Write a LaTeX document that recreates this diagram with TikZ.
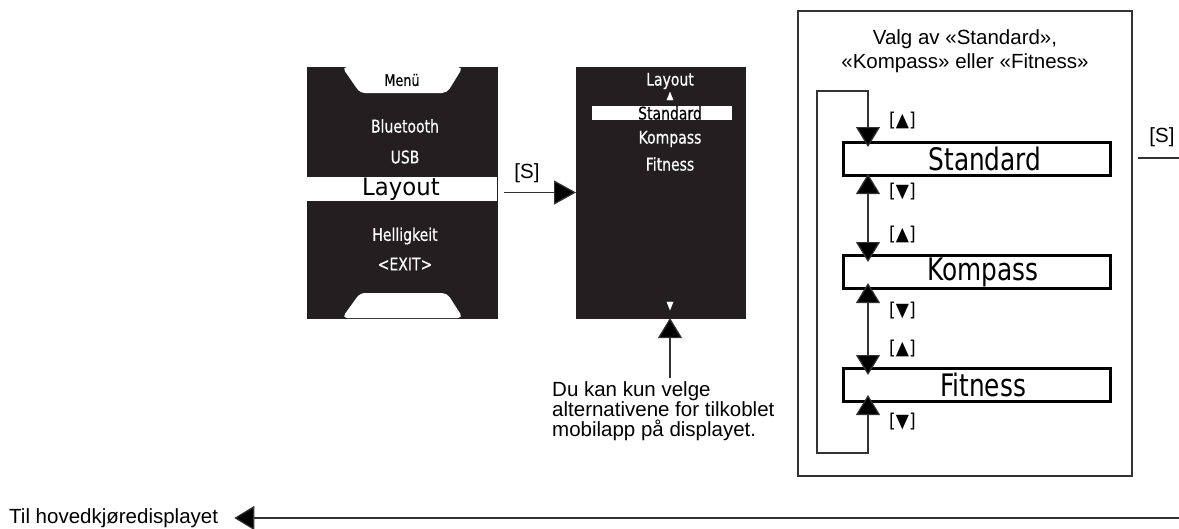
\documentclass[tikz,border=0pt]{standalone}
\usepackage{fontspec}
\setmainfont{Liberation Sans}
\newfontfamily\lcd[FakeStretch=0.8,FakeBold=0.5]{DejaVu Sans}
\newfontfamily\lcdbig[FakeStretch=0.8]{DejaVu Sans}
\newfontfamily\lcdw[FakeStretch=0.95]{DejaVu Sans}
\newfontfamily\keyfont[FakeStretch=0.9]{DejaVu Sans}
\usetikzlibrary{arrows.meta}
\definecolor{scr}{HTML}{231F20}
\definecolor{ln}{HTML}{333333}
\tikzset{
  screen/.style={draw=scr, fill=scr, minimum width=#1, minimum height=251, inner sep=0, outer sep=0},
  scrtext/.style={text=white, font=\lcd\fontsize{17.5}{18}\selectfont, inner sep=0},
  optbox/.style={draw=black, line width=3, minimum width=267, minimum height=33, inner sep=0, font=\lcdbig\fontsize{31}{31}\selectfont},
  lab/.style={font=\fontsize{20.5}{20}\selectfont, inner sep=0},
  key/.style={font=\keyfont\fontsize{19}{19}\selectfont, inner sep=0, anchor=west},
  conn/.style={draw=ln, line width=1.2},
  arr/.style={conn, -{Triangle[width=24,length=20,fill=black]}},
  darr/.style={conn, {Triangle[width=24,length=20,fill=black]}-{Triangle[width=24,length=20,fill=black]}},
  frame/.style={draw=ln, line width=1.3}
}
\begin{document}
\begin{tikzpicture}[x=1pt,y=-1pt]
\useasboundingbox (0,0) rectangle (1179,528);

% ---------- left screen ----------
\node[screen=190] (scr1) at (402,192.5) {};
\fill[white, rounded corners=5] (342,67) -- (463,67) -- (447,93) -- (360,93) -- cycle;
\fill[white, rounded corners=5] (342,318) -- (463,318) -- (447,293) -- (360,293) -- cycle;
\node[scrtext, text=black, font=\lcd\fontsize{16}{16}\selectfont] (menu) at (402,80) {Menü};
\node[scrtext] (bt) at (405,126) {Bluetooth};
\node[scrtext] (usb) at (405,157) {USB};
\node[fill=white, minimum width=190, minimum height=24, inner sep=0] (layb) at (402,189) {};
\node[inner sep=0, font=\lcdw\fontsize{24}{24}\selectfont] (lay) at (401,189) {Layout};
\node[scrtext] (hel) at (405,236) {Helligkeit};
\node[scrtext] (exit) at (405,264) {<EXIT>};

% ---------- middle screen ----------
\node[screen=169] (scr2) at (660.5,192.5) {};
\node[scrtext] (lay2) at (670,81) {Layout};
\node[scrtext, font=\lcd\fontsize{11}{11}\selectfont] (up2) at (670,96) {▲};
\node[fill=white, minimum width=140, minimum height=14, inner sep=0] (stdb) at (662,113) {};
\node[scrtext, text=black] (std2) at (670,113) {Standard};
\node[scrtext] (kom2) at (670,139) {Kompass};
\node[scrtext] (fit2) at (670,164) {Fitness};
\node[scrtext, font=\lcd\fontsize{11}{11}\selectfont] (dn2) at (670,306) {▼};

% [S] arrow between screens
\node[lab] (s1) at (527,173) {[S]};
\coordinate (s1a) at (504,192.5);
\draw[arr, -{Triangle[width=24,length=22,fill=black]}] (s1a) -- (scr2.west);

% note
\node[lab, align=left, anchor=north west] (note) at (552,381) {Du kan kun velge\\alternativene for tilkoblet\\mobilapp på displayet.};
\coordinate (notetop) at (670,378);
\draw[arr] (notetop) -- (notetop |- scr2.south);

% ---------- right box ----------
\node[frame, minimum width=334, minimum height=465, inner sep=0] (sbox) at (965,243.5) {};
\node[lab, align=center, font=\fontsize{20.5}{24}\selectfont] (title) at (965,51) {Valg av «Standard»,\\«Kompass» eller «Fitness»};
\node[optbox] (std) at (977,159) {\hspace*{16pt}Standard};
\node[optbox] (kom) at (977,272) {\hspace*{12pt}Kompass};
\node[optbox] (fit) at (977,385) {\hspace*{12pt}Fitness};
\coordinate (col) at (868,0);
\coordinate (lt) at (817,91);
\coordinate (lb) at (817,453);

\draw[darr] ([yshift=-6]std.north -| col) -- (col |- lt) -- (lt) -- (lb) -- (col |- lb) -- ([yshift=8]fit.south -| col);
\draw[darr] ([yshift=3]std.south -| col) -- ([yshift=-8]kom.north -| col);
\draw[darr] ([yshift=7]kom.south -| col) -- ([yshift=-8]fit.north -| col);

\node[key] (k1) at (889,121) {[▲]};
\node[key] (k2) at (889,192) {[▼]};
\node[key] (k3) at (889,235) {[▲]};
\node[key] (k4) at (889,311) {[▼]};
\node[key] (k5) at (889,349) {[▲]};
\node[key] (k6) at (889,422) {[▼]};

% right [S]
\node[lab] (s2) at (1162,137) {[S]};
\coordinate (s2a) at (1138,158);
\coordinate (s2b) at (1179,158);
\draw[conn] (s2a) -- (s2b);

% bottom
\node[lab, anchor=west] (til) at (9,518) {Til hovedkjøredisplayet};
\coordinate (bend) at (1179,518);
\draw[arr] (bend) -- ([xshift=16]til.east);
\end{tikzpicture}
\end{document}
